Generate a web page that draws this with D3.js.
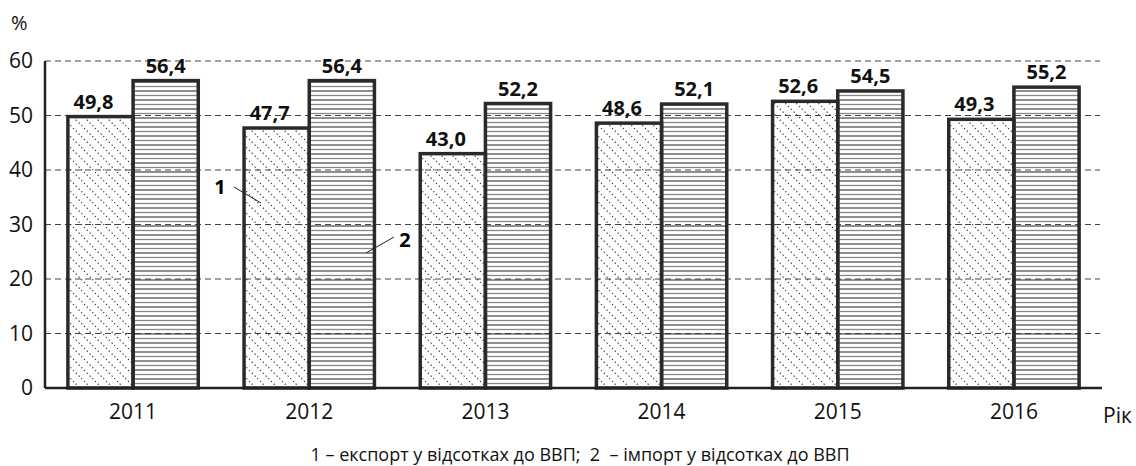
<!DOCTYPE html>
<html><head><meta charset="utf-8">
<script src="https://cdn.jsdelivr.net/npm/d3@7"></script>
<style>body{margin:0;background:#fff}svg{display:block;font-family:"Open Sans","Noto Sans",sans-serif}</style>
</head><body>
<script>
const years = ["2011","2012","2013","2014","2015","2016"];
const exportVals = [49.8,47.7,43.0,48.6,52.6,49.3];
const importVals = [56.4,56.4,52.2,52.1,54.5,55.2];
const yTicks = [0,10,20,30,40,50,60];
const legendText = "1 – експорт у відсотках до ВВП;  2  – імпорт у відсотках до ВВП";

const W=1136,H=466;
const svg=d3.select("body").append("svg").attr("width",W).attr("height",H);
const defs=svg.append("defs");
const p1=defs.append("pattern").attr("id","diag").attr("patternUnits","userSpaceOnUse")
  .attr("width",11).attr("height",11);
p1.append("path").attr("d","M-1,-1 L12,12 M-12,-1 L1,12 M10,-1 L23,12")
  .attr("stroke","#222").attr("stroke-width",1.1).attr("stroke-dasharray","1.2,2.6");
const p2=defs.append("pattern").attr("id","horiz").attr("patternUnits","userSpaceOnUse")
  .attr("width",10).attr("height",9);
p2.append("line").attr("x1",0).attr("x2",10).attr("y1",1).attr("y2",1).attr("stroke","#333").attr("stroke-width",1.1);
p2.append("line").attr("x1",0).attr("x2",10).attr("y1",5.5).attr("y2",5.5).attr("stroke","#888").attr("stroke-width",1.3);

const x0=45,x1=1102;
const x=d3.scaleBand().domain(years).range([x0,x1]).paddingInner(0.26).paddingOuter(0.13);
const y=d3.scaleLinear().domain([0,60]).range([388,61]);

// grid
svg.append("g").selectAll("line").data(yTicks.filter(d=>d>0)).join("line")
  .attr("x1",x0).attr("x2",1100).attr("y1",d=>y(d)).attr("y2",d=>y(d))
  .attr("stroke","#444").attr("stroke-width",1).attr("stroke-dasharray","6,4");

// y axis
const ya=svg.append("g").attr("transform",`translate(${x0},0)`)
  .call(d3.axisLeft(y).tickValues(yTicks).tickSize(0).tickPadding(12));
ya.select(".domain").remove();
ya.selectAll("text").attr("font-size",21).attr("fill","#111").attr("font-family","'Open Sans',sans-serif");
svg.append("line").attr("x1",x0).attr("x2",x0).attr("y1",y(60)).attr("y2",y(0)).attr("stroke","#222").attr("stroke-width",2.5);

// bars
const bw=x.bandwidth()/2;
const g=svg.append("g");
g.selectAll("rect.e").data(years).join("rect").attr("class","e")
  .attr("x",d=>x(d)).attr("width",bw)
  .attr("y",(d,i)=>y(exportVals[i])).attr("height",(d,i)=>y(0)-y(exportVals[i]))
  .attr("fill","url(#diag)").attr("stroke","#2a2a2a").attr("stroke-width",3.5);
g.selectAll("rect.i").data(years).join("rect").attr("class","i")
  .attr("x",d=>x(d)+bw).attr("width",bw)
  .attr("y",(d,i)=>y(importVals[i])).attr("height",(d,i)=>y(0)-y(importVals[i]))
  .attr("fill","url(#horiz)").attr("stroke","#2a2a2a").attr("stroke-width",3.5);

// x axis
svg.append("line").attr("x1",x0).attr("x2",1102).attr("y1",y(0)).attr("y2",y(0)).attr("stroke","#222").attr("stroke-width",2.5);
const xa=svg.append("g").attr("transform",`translate(0,${y(0)})`)
  .call(d3.axisBottom(x).tickSize(0).tickPadding(16));
xa.select(".domain").remove();
xa.selectAll("text").attr("font-size",21).attr("fill","#111").attr("font-family","'Open Sans',sans-serif");

const fmt=v=>v.toFixed(1).replace(".",",");
g.selectAll("text.e").data(years).join("text").attr("class","e")
  .attr("x",d=>x(d)+bw/2-7).attr("y",(d,i)=>y(exportVals[i])-8)
  .attr("text-anchor","middle").attr("font-size",20).attr("font-weight","bold").attr("fill","#111")
  .text((d,i)=>fmt(exportVals[i]));
g.selectAll("text.i").data(years).join("text").attr("class","i")
  .attr("x",d=>x(d)+bw*1.5).attr("y",(d,i)=>y(importVals[i])-8)
  .attr("text-anchor","middle").attr("font-size",20).attr("font-weight","bold").attr("fill","#111")
  .text((d,i)=>fmt(importVals[i]));

// annotations
svg.append("text").attr("x",220).attr("y",194).attr("text-anchor","middle").attr("font-size",20).attr("font-weight","bold").text("1");
svg.append("line").attr("x1",234).attr("y1",187).attr("x2",261).attr("y2",203).attr("stroke","#222").attr("stroke-width",1);
svg.append("text").attr("x",405).attr("y",247).attr("text-anchor","middle").attr("font-size",20).attr("font-weight","bold").text("2");
svg.append("line").attr("x1",366).attr("y1",253).attr("x2",394).attr("y2",237).attr("stroke","#222").attr("stroke-width",1);

svg.append("text").attr("x",11).attr("y",30).attr("font-size",20).attr("fill","#111").text("%");
svg.append("text").attr("x",1103).attr("y",423).attr("font-size",21).attr("fill","#111").text("Рік");
svg.append("text").attr("x",580).attr("y",461).attr("text-anchor","middle").attr("font-size",18).attr("fill","#111")
  .style("white-space","pre").text(legendText);
</script>
</body></html>
